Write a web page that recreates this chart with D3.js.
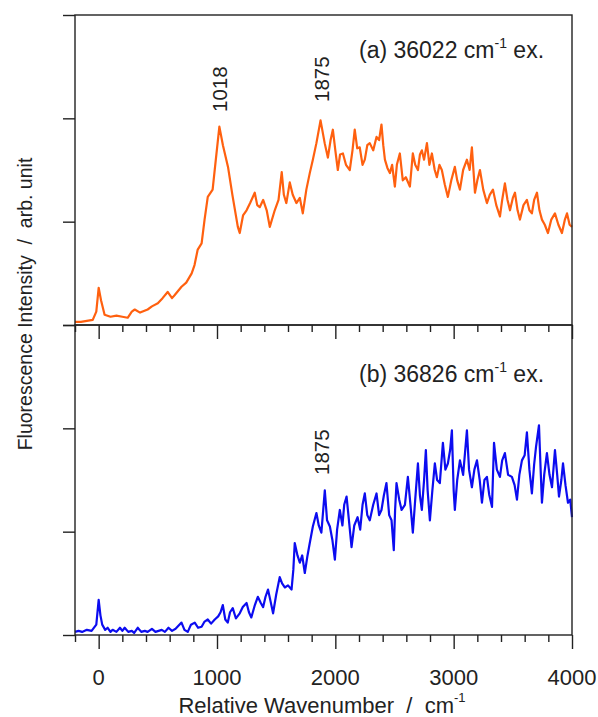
<!DOCTYPE html>
<html>
<head>
<meta charset="utf-8">
<script src="https://cdn.jsdelivr.net/npm/d3@7"></script>
<style>
  html, body { margin: 0; padding: 0; background: #fff; }
  svg { display: block; }
  text { font-family: "Liberation Sans", Arial, Helvetica, sans-serif; fill: #222; white-space: pre; }
</style>
</head>
<body>
<svg id="chart" width="598" height="717"></svg>
<script>
// ---- Data ----
const wavenumberA = [-200,-150,-100,-50,-20,0,20,50,100,150,200,245,280,305,350,414,450,500,540,583,620,643,700,740,786,810,837,870,895,922,963,990,1020,1050,1093,1130,1176,1192,1220,1250,1280,1319,1340,1361,1390,1420,1446,1488,1520,1547,1565,1586,1615,1640,1671,1700,1725,1755,1784,1810,1840,1875,1910,1937,1960,1979,2000,2021,2040,2064,2090,2122,2145,2164,2185,2206,2230,2249,2270,2291,2320,2348,2370,2390,2405,2419,2440,2461,2480,2503,2520,2545,2570,2596,2630,2655,2675,2698,2715,2731,2750,2774,2795,2816,2840,2858,2880,2900,2925,2951,2980,3010,3030,3053,3080,3112,3135,3154,3170,3180,3200,3222,3250,3281,3305,3332,3360,3391,3410,3433,3455,3476,3500,3518,3540,3560,3590,3619,3640,3661,3680,3704,3725,3746,3770,3797,3825,3856,3885,3915,3940,3958,3980,4000];
const intensityA = [0.03,0.03,0.04,0.05,0.13,0.36,0.24,0.10,0.08,0.09,0.08,0.07,0.13,0.15,0.12,0.15,0.18,0.21,0.26,0.32,0.26,0.29,0.37,0.41,0.50,0.58,0.73,0.79,1.02,1.24,1.31,1.60,1.92,1.74,1.53,1.26,0.95,0.89,1.06,1.11,1.18,1.28,1.16,1.14,1.21,1.11,0.95,1.11,1.21,1.48,1.26,1.18,1.38,1.26,1.18,1.23,1.08,1.31,1.47,1.60,1.76,1.98,1.76,1.62,1.79,1.89,1.69,1.50,1.65,1.66,1.55,1.50,1.69,1.89,1.71,1.72,1.55,1.60,1.74,1.76,1.69,1.82,1.79,1.94,1.74,1.60,1.52,1.47,1.55,1.34,1.55,1.66,1.40,1.43,1.34,1.66,1.55,1.50,1.65,1.69,1.60,1.76,1.55,1.66,1.50,1.43,1.55,1.50,1.36,1.24,1.40,1.53,1.40,1.31,1.50,1.60,1.50,1.72,1.45,1.28,1.40,1.50,1.31,1.18,1.26,1.31,1.16,1.05,1.21,1.37,1.21,1.11,1.23,1.28,1.11,1.02,1.16,1.21,1.11,1.08,1.21,1.28,1.11,1.02,0.97,0.89,1.02,1.08,0.97,0.89,1.02,1.08,0.97,0.95];

const wavenumberB = [-200,-170,-140,-100,-60,-20,0,15,30,55,76,100,118,150,180,200,220,250,280,300,330,360,390,414,450,480,533,560,590,620,650,700,725,753,780,812,840,870,895,922,950,981,1010,1030,1049,1070,1091,1110,1133,1160,1192,1218,1250,1270,1290,1320,1345,1370,1390,1410,1431,1450,1474,1500,1530,1550,1573,1600,1630,1645,1657,1680,1700,1720,1742,1765,1784,1810,1840,1860,1882,1911,1930,1954,1975,1996,2015,2038,2060,2075,2095,2115,2137,2160,2188,2210,2230,2249,2270,2291,2320,2348,2370,2390,2410,2432,2455,2475,2494,2505,2517,2540,2560,2588,2613,2635,2655,2675,2698,2715,2731,2750,2765,2780,2799,2820,2841,2860,2883,2909,2930,2951,2970,2985,3000,3010,3030,3053,3080,3112,3130,3154,3175,3197,3220,3239,3260,3281,3300,3324,3341,3365,3391,3410,3433,3460,3492,3515,3535,3555,3577,3600,3619,3640,3661,3680,3696,3721,3735,3746,3765,3788,3810,3831,3856,3875,3890,3910,3924,3945,3966,3985,4000];
const intensityB = [0.03,0.04,0.03,0.05,0.04,0.10,0.34,0.19,0.10,0.05,0.07,0.03,0.05,0.03,0.07,0.04,0.07,0.03,0.04,0.02,0.07,0.03,0.04,0.03,0.06,0.03,0.05,0.03,0.07,0.04,0.06,0.12,0.05,0.03,0.10,0.12,0.07,0.08,0.13,0.15,0.11,0.15,0.18,0.22,0.29,0.15,0.12,0.22,0.26,0.16,0.21,0.27,0.31,0.22,0.17,0.29,0.37,0.31,0.27,0.37,0.44,0.34,0.21,0.39,0.56,0.50,0.46,0.48,0.44,0.63,0.89,0.77,0.70,0.77,0.60,0.77,0.89,1.05,1.18,1.06,0.99,1.40,1.11,1.05,0.92,0.73,1.02,1.21,1.06,1.26,1.34,1.11,0.85,1.06,1.14,1.02,1.26,1.37,1.16,1.11,1.26,1.37,1.16,1.21,1.35,1.47,1.16,1.11,0.82,1.21,1.47,1.31,1.21,1.26,1.53,1.26,0.99,1.31,1.66,1.35,1.21,1.50,1.79,1.40,1.11,1.40,1.66,1.50,1.47,1.86,1.60,1.66,1.79,1.98,1.40,1.21,1.50,1.69,1.55,1.98,1.60,1.43,1.60,1.69,1.50,1.28,1.50,1.53,1.36,1.24,1.86,1.60,1.53,1.69,1.76,1.55,1.53,1.45,1.31,1.55,1.69,1.74,1.96,1.60,1.37,1.65,1.82,2.03,1.60,1.28,1.55,1.76,1.55,1.43,1.79,1.55,1.34,1.50,1.66,1.45,1.28,1.31,1.14];

const xMajorTicks = [0, 1000, 2000, 3000, 4000];
const xMinorTicks = [-200, 200, 400, 600, 800, 1200, 1400, 1600, 1800, 2200, 2400, 2600, 2800, 3200, 3400, 3600, 3800];
const yTicks = [0, 1, 2, 3];

const panelA = { label: "(a) 36022 cm", tail: " ex.", peaks: [{ w: 1018, text: "1018" }, { w: 1875, text: "1875" }] };
const panelB = { label: "(b) 36826 cm", tail: " ex.", peaks: [{ w: 1875, text: "1875" }] };

// ---- Layout ----
const svg = d3.select("#chart");
const L = 75, R = 572;
const topA = 15, botA = 325, topB = 325, botB = 635;
const axisColor = "#222";
const labelFont = 23;  // panel labels
const tickFont = 22;   // tick labels / x title
const vFont = 20.5;    // rotated text size

const x = d3.scaleLinear().domain([-200, 4000]).range([L, R]);
const yA = d3.scaleLinear().domain([0, 3]).range([botA, topA]);
const yB = d3.scaleLinear().domain([0, 3]).range([botB, topB]);

function styleAxis(g) {
  g.select(".domain").remove();
  g.selectAll(".tick line").attr("stroke", axisColor).attr("stroke-width", 1.4);
}

function drawPanel(y, top, bot, wn, inten, color, info, labelY, peakInfo) {
  const data = wn.map((w, i) => [w, inten[i]]);
  const line = d3.line().x(d => x(d[0])).y(d => y(d[1]));
  svg.append("path").datum(data)
    .attr("d", line).attr("fill", "none")
    .attr("stroke", color).attr("stroke-width", 2.2).attr("stroke-linejoin", "round");

  // frame
  svg.append("rect").attr("x", L).attr("y", top).attr("width", R - L).attr("height", bot - top)
    .attr("fill", "none").attr("stroke", axisColor).attr("stroke-width", 1.4);

  // bottom ticks
  const gMaj = svg.append("g").attr("transform", `translate(0,${bot})`)
    .call(d3.axisBottom(x).tickValues(xMajorTicks).tickSize(14).tickFormat(""));
  styleAxis(gMaj);
  const gMin = svg.append("g").attr("transform", `translate(0,${bot})`)
    .call(d3.axisBottom(x).tickValues(xMinorTicks).tickSize(7).tickFormat(""));
  styleAxis(gMin);

  // left ticks
  const gY = svg.append("g").attr("transform", `translate(${L},0)`)
    .call(d3.axisLeft(y).tickValues(yTicks).tickSize(12).tickFormat(""));
  styleAxis(gY);

  // panel label
  const t = svg.append("text").attr("x", 359).attr("y", labelY).attr("font-size", labelFont);
  t.append("tspan").text(info.label);
  t.append("tspan").attr("dy", -10).attr("font-size", 14).text("-1");
  t.append("tspan").attr("dy", 10).text(info.tail);

  // peak labels
  info.peaks.forEach((p, i) => {
    svg.append("text")
      .attr("transform", `translate(${x(p.w) + 8},${peakInfo[i]}) rotate(-90)`)
      .attr("font-size", vFont).attr("text-anchor", "start").text(p.text);
  });
}

drawPanel(yA, topA, botA, wavenumberA, intensityA, "#ff600f", panelA, 58, [112, 102]);
drawPanel(yB, topB, botB, wavenumberB, intensityB, "#0c0cf0", panelB, 382, [475]);

// x tick labels
svg.append("g").selectAll("text").data(xMajorTicks).join("text")
  .attr("x", d => x(d)).attr("y", 685).attr("text-anchor", "middle")
  .attr("font-size", tickFont).text(d => d);

// x axis title
const xt = svg.append("text").attr("x", 322).attr("y", 713).attr("text-anchor", "middle").attr("font-size", tickFont);
xt.append("tspan").text("Relative Wavenumber  /  cm");
xt.append("tspan").attr("dy", -11).attr("font-size", 13).text("-1");

// y axis title
svg.append("text")
  .attr("transform", `translate(32,304) rotate(-90)`)
  .attr("text-anchor", "middle").attr("font-size", 19.5)
  .text("Fluorescence Intensity  /  arb. unit");
</script>
</body>
</html>
